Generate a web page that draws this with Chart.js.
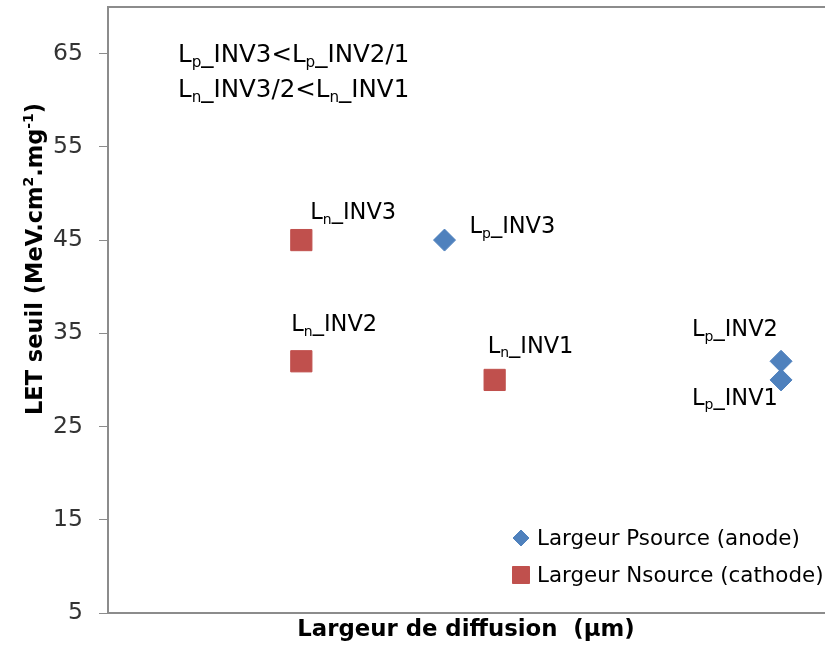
<!DOCTYPE html>
<html>
<head>
<meta charset="utf-8">
<script src="https://cdn.jsdelivr.net/npm/chart.js@4/dist/chart.umd.min.js"></script>
<style>
  html, body { margin: 0; padding: 0; background: #fff; }
  #wrap { width: 825px; height: 652px; position: relative; }
</style>
</head>
<body>
<div id="wrap"><canvas id="letChart"></canvas></div>
<script>
// Data ({x} = subscript, [x] = superscript)
const pLabels = ["L{p}_INV3", "L{p}_INV2", "L{p}_INV1"];
const pWidth = [0.47, 0.94, 0.94];
const pLet = [45, 32, 30];

const nLabels = ["L{n}_INV3", "L{n}_INV2", "L{n}_INV1"];
const nWidth = [0.27, 0.27, 0.54];
const nLet = [45, 32, 30];

const seriesNames = ["Largeur Psource (anode)", "Largeur Nsource (cathode)"];
const yTicks = [5, 15, 25, 35, 45, 55, 65];
const yTitle = "LET seuil (MeV.cm[2].mg[-1])";
const xTitle = "Largeur de diffusion  (µm)";
const noteLines = ["L{p}_INV3<L{p}_INV2/1", "L{n}_INV3/2<L{n}_INV1"];

// label placement relative to each point (text left, baseline)
const pLabelOffsets = [[25, -7], [-89, -25], [-89, 25]];
const nLabelOffsets = [[9, -21], [-10, -30], [-7, -27]];

const FONT = "'DejaVu Sans'";
const BLUE = "#4F81BD";
const RED = "#C0504D";
const AXIS = "#8c8c8c";

function drawRich(ctx, str, x, y, size, weight) {
  const parts = str.split(/(\{[^}]*\}|\[[^\]]*\])/);
  parts.forEach((p) => {
    if (!p) return;
    let t = p, s = size, dy = 0;
    if (p[0] === "{") { t = p.slice(1, -1); s = size * 0.62; dy = size * 0.2; }
    if (p[0] === "[") { t = p.slice(1, -1); s = size * 0.62; dy = -size * 0.38; }
    ctx.font = `${weight || "normal"} ${s}px ${FONT}`;
    ctx.fillText(t, x, y + dy);
    x += ctx.measureText(t).width;
  });
  return x;
}

function richWidth(ctx, str, size, weight) {
  ctx.save();
  ctx.globalAlpha = 0;
  const w = drawRich(ctx, str, 0, 0, size, weight);
  ctx.restore();
  return w;
}

const extras = {
  id: "extras",
  afterDraw(chart) {
    const ctx = chart.ctx;
    ctx.save();
    ctx.textBaseline = "alphabetic";
    ctx.textAlign = "left";
    ctx.fillStyle = "#000";

    // y title, rotated
    ctx.save();
    const tw = richWidth(ctx, yTitle, 22.5, "bold");
    ctx.translate(42, 259);
    ctx.rotate(-Math.PI / 2);
    drawRich(ctx, yTitle, -tw / 2, 0, 22.5, "bold");
    ctx.restore();

    // note in the top left corner
    drawRich(ctx, noteLines[0], 178, 62, 24.5);
    drawRich(ctx, noteLines[1], 178, 97, 24.5);

    // point labels
    const sets = [[pLabels, pLabelOffsets], [nLabels, nLabelOffsets]];
    sets.forEach(([labels, offs], di) => {
      chart.getDatasetMeta(di).data.forEach((pt, i) => {
        drawRich(ctx, labels[i], pt.x + offs[i][0], pt.y + offs[i][1], 22.5);
      });
    });

    // legend inside plot
    const rows = [538, 575];
    chart.data.datasets.forEach((ds, i) => {
      ctx.fillStyle = ds.backgroundColor;
      ctx.strokeStyle = ds.borderColor;
      Chart.helpers.drawPoint(ctx, {
        pointStyle: ds.pointStyle,
        radius: i === 0 ? 8 : 12,
        borderWidth: 1,
        rotation: 0
      }, 521, rows[i]);
      ctx.fillStyle = "#000";
      ctx.font = `21.4px ${FONT}`;
      ctx.fillText(seriesNames[i], 537, rows[i] + 7);
    });
    ctx.restore();
  }
};

new Chart(document.getElementById("letChart"), {
  type: "scatter",
  data: {
    datasets: [
      {
        label: seriesNames[0],
        data: pWidth.map((x, i) => ({ x: x, y: pLet[i] })),
        pointStyle: "rectRot",
        pointRadius: 11,
        pointHoverRadius: 11,
        backgroundColor: BLUE,
        borderColor: BLUE,
        borderWidth: 1
      },
      {
        label: seriesNames[1],
        data: nWidth.map((x, i) => ({ x: x, y: nLet[i] })),
        pointStyle: "rect",
        pointRadius: 15,
        pointHoverRadius: 15,
        backgroundColor: RED,
        borderColor: RED,
        borderWidth: 1
      }
    ]
  },
  options: {
    responsive: true,
    maintainAspectRatio: false,
    animation: false,
    events: [],
    layout: { autoPadding: false, padding: { top: 7, right: 1, left: 0, bottom: 0 } },
    plugins: {
      legend: { display: false },
      tooltip: { enabled: false }
    },
    scales: {
      x: {
        type: "linear",
        min: 0,
        max: 1,
        ticks: { display: false },
        grid: { display: false },
        border: { display: true, color: AXIS, width: 2 },
        title: {
          display: true,
          text: xTitle,
          color: "#000",
          font: { family: FONT, size: 22.8, weight: "bold" },
          padding: { top: 0, bottom: 8 }
        },
        afterFit: (scale) => {
          scale.height = 39;
          scale.paddingLeft = 0;
          scale.paddingRight = 0;
        }
      },
      x2: {
        type: "linear",
        position: "top",
        display: true,
        min: 0,
        max: 1,
        ticks: { display: false },
        grid: { display: false },
        border: { display: true, color: AXIS, width: 2 },
        afterFit: (scale) => {
          scale.height = 0;
          scale.paddingLeft = 0;
          scale.paddingRight = 0;
        }
      },
      y: {
        type: "linear",
        min: 5,
        max: 70,
        afterBuildTicks: (scale) => {
          scale.ticks = yTicks.map((v) => ({ value: v }));
        },
        ticks: {
          color: "#333",
          padding: 16,
          font: { family: FONT, size: 23.5 }
        },
        grid: {
          display: true,
          drawOnChartArea: false,
          drawTicks: true,
          tickLength: 9,
          color: AXIS,
          lineWidth: 1
        },
        border: { display: true, color: AXIS, width: 2 },
        afterFit: (scale) => {
          scale.width = 108;
          scale.paddingTop = 0;
          scale.paddingBottom = 0;
        }
      }
    }
  },
  plugins: [extras]
});
</script>
</body>
</html>
